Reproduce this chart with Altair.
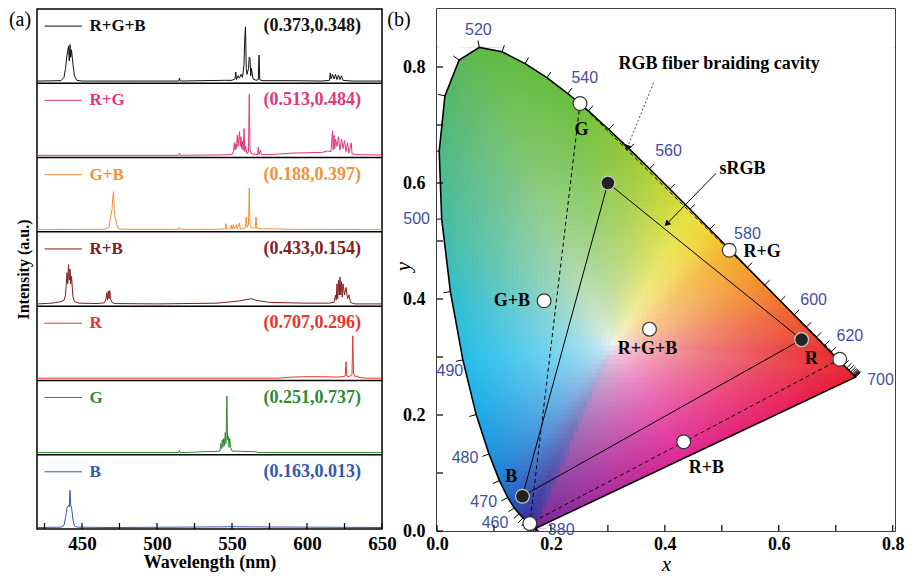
import altair as alt
import numpy as np
import pandas as pd

alt.data_transformers.disable_max_rows()

SERIF = "Liberation Serif"
SANS = "Liberation Sans"

# ---------------- (a) emission spectra ----------------
names = ["R+G+B", "R+G", "G+B", "R+B", "R", "G", "B"]
colors = ["#111111", "#e2377f", "#f0923c", "#82201f", "#e8362c", "#2f8a33", "#3458b0"]
coords = ["(0.373,0.348)", "(0.513,0.484)", "(0.188,0.397)", "(0.433,0.154)",
          "(0.707,0.296)", "(0.251,0.737)", "(0.163,0.013)"]

spec_rgb = [(420, 0.03), (436, 0.035), (438, 0.08), (439, 0.2), (440, 0.38), (441, 0.50), (441.5, 0.3),
            (442, 0.52), (442.5, 0.35), (443, 0.45), (444, 0.25), (445, 0.10), (446.5, 0.04), (450, 0.03),
            (514.5, 0.03), (515, 0.07), (515.5, 0.03), (530, 0.035), (545, 0.04), (550, 0.04),
            (552, 0.06), (552.5, 0.15), (553, 0.05), (554, 0.1), (555, 0.07), (556, 0.12), (557, 0.08),
            (558, 0.25), (558.5, 0.6), (559, 0.76), (559.5, 0.2), (560, 0.12), (561, 0.2), (561.5, 0.35),
            (562, 0.33), (562.5, 0.1), (563, 0.2), (564, 0.06), (566, 0.04), (567.5, 0.05), (568, 0.38),
            (568.5, 0.05), (570, 0.035), (590, 0.035), (610, 0.03), (615, 0.04), (615.5, 0.14),
            (616, 0.06), (617, 0.12), (618, 0.06), (619, 0.12), (620, 0.05), (621, 0.11), (622, 0.05),
            (623, 0.1), (624, 0.04), (630, 0.03), (650, 0.03)]
spec_rg = [(420, 0.03), (514.5, 0.03), (515, 0.06), (515.5, 0.03), (540, 0.035), (550, 0.04),
           (551, 0.08), (551.5, 0.2), (552, 0.1), (552.5, 0.18), (553, 0.12), (553.5, 0.3), (554, 0.15),
           (555, 0.35), (555.5, 0.15), (556, 0.28), (556.5, 0.12), (557, 0.22), (557.5, 0.1), (558, 0.39),
           (558.5, 0.08), (559, 0.15), (560, 0.05), (561, 0.08), (561.5, 0.85), (562, 0.1), (563, 0.05),
           (567, 0.04), (567.5, 0.14), (568, 0.04), (569, 0.1), (569.5, 0.04), (575, 0.04), (590, 0.06),
           (600, 0.065), (610, 0.07), (614, 0.09), (616, 0.08), (617, 0.36), (617.5, 0.1), (618, 0.3),
           (618.5, 0.12), (619, 0.25), (620, 0.15), (621, 0.28), (622, 0.1), (623, 0.25), (624, 0.12),
           (625, 0.23), (626, 0.08), (627, 0.2), (628, 0.06), (629.5, 0.2), (630, 0.05), (633, 0.04),
           (650, 0.035)]
spec_gb = [(420, 0.03), (465, 0.035), (468, 0.06), (469, 0.2), (470, 0.3), (470.5, 0.45), (471, 0.54),
           (471.5, 0.3), (472, 0.2), (473, 0.12), (474, 0.05), (476, 0.035), (514.5, 0.035), (515, 0.06),
           (515.5, 0.035), (540, 0.035), (545.5, 0.04), (546, 0.11), (546.5, 0.04), (549, 0.04),
           (549.5, 0.09), (550, 0.04), (551, 0.1), (551.5, 0.04), (553, 0.1), (553.5, 0.04), (555, 0.12),
           (555.5, 0.04), (558, 0.04), (559, 0.06), (559.5, 0.2), (560, 0.06), (561, 0.1), (561.5, 0.59),
           (562, 0.08), (563, 0.05), (565.5, 0.05), (566, 0.2), (566.5, 0.05), (570, 0.04), (580, 0.04),
           (585, 0.035), (650, 0.03)]
spec_rb = [(420, 0.03), (430, 0.04), (436, 0.06), (438, 0.08), (439, 0.15), (440, 0.45), (440.5, 0.3),
           (441, 0.56), (441.5, 0.35), (442, 0.5), (442.5, 0.3), (443, 0.4), (444, 0.12), (445, 0.06),
           (448, 0.04), (460, 0.035), (465, 0.045), (466, 0.1), (466.5, 0.18), (467, 0.08), (467.5, 0.2),
           (468, 0.1), (468.5, 0.21), (469, 0.1), (470, 0.05), (472, 0.035), (500, 0.03), (540, 0.04),
           (555, 0.07), (560, 0.09), (563, 0.1), (566, 0.08), (575, 0.05), (600, 0.04), (615, 0.04),
           (618, 0.05), (619, 0.15), (619.5, 0.08), (620, 0.3), (620.5, 0.1), (621, 0.35), (621.5, 0.15),
           (622, 0.39), (622.5, 0.15), (623, 0.33), (623.5, 0.12), (624, 0.3), (625, 0.15), (626, 0.25),
           (627, 0.1), (628, 0.15), (629, 0.05), (632, 0.03), (650, 0.03)]
spec_r = [(420, 0.03), (580, 0.03), (590, 0.045), (600, 0.05), (610, 0.05), (620, 0.045), (624, 0.05),
          (625.5, 0.06), (626, 0.25), (626.5, 0.06), (628, 0.05), (630, 0.08), (630.5, 0.6), (631, 0.1),
          (632, 0.05), (634, 0.06), (634.5, 0.04), (640, 0.03), (650, 0.03)]
spec_g = [(420, 0.03), (514.5, 0.03), (515, 0.06), (515.5, 0.03), (520, 0.03), (530, 0.04), (540, 0.045),
          (542, 0.05), (542.5, 0.15), (543, 0.08), (543.5, 0.2), (544, 0.1), (544.5, 0.22), (545, 0.12),
          (545.5, 0.3), (546, 0.15), (546.6, 0.79), (547, 0.2), (547.5, 0.25), (548, 0.1), (548.5, 0.22),
          (549, 0.1), (550, 0.05), (556, 0.045), (566, 0.04), (567, 0.03), (650, 0.03)]
spec_b = [(420, 0.02), (436, 0.025), (438, 0.05), (439, 0.15), (440, 0.28), (441, 0.32), (441.5, 0.3),
          (442, 0.52), (442.5, 0.3), (443, 0.3), (444, 0.12), (445, 0.04), (447, 0.025), (470, 0.02),
          (515, 0.025), (550, 0.03), (600, 0.025), (650, 0.02)]
spectra = [spec_rgb, spec_rg, spec_gb, spec_rb, spec_r, spec_g, spec_b]

wl_ticks = [425, 450, 475, 500, 525, 550, 575, 600, 625, 650]

LW, LH = 345, 520
RW, RH = 458, 522

rows = []
for i, (nm, pts) in enumerate(zip(names, spectra)):
    off = 6 - i
    for w, v in pts:
        rows.append({"series": nm, "wl": w, "y": off + v})
spec_df = pd.DataFrame(rows)

leg_df = pd.DataFrame({
    "series": names,
    "wl": [425] * 7, "wl2": [450] * 7, "wlt": [455] * 7, "wlc": [636] * 7,
    "y": [6 - i + 0.77 for i in range(7)],
    "coord": coords,
})
div_df = pd.DataFrame({"y": [1, 2, 3, 4, 5, 6]})
ltick_df = pd.DataFrame({"wl": wl_ticks})

lx_scale = alt.Scale(domain=[420, 650], nice=False, zero=False)
lx_axis = alt.Axis(values=wl_ticks, labelExpr="datum.value % 50 == 0 ? datum.label : ''",
                   title="Wavelength (nm)", ticks=False, tickSize=0, labelPadding=5,
                   labelFontSize=19, labelFontWeight="bold", titleFontSize=18, titleFontWeight="bold",
                   titlePadding=0, labelFlush=False, labelOverlap=False)
ly_scale = alt.Scale(domain=[0, 7], nice=False, zero=False)
ly_axis = alt.Axis(title="Intensity (a.u.)", labels=False, ticks=False, tickSize=0, domain=False,
                   titlePadding=6, titleFontSize=16, titleFontWeight="bold")


def LX(f):
    return alt.X(f, type="quantitative", scale=lx_scale, axis=lx_axis)


def LY(f):
    return alt.Y(f, type="quantitative", scale=ly_scale, axis=ly_axis)


col_enc = alt.Color("series:N", scale=alt.Scale(domain=names, range=colors), legend=None)

lines = alt.Chart(spec_df).mark_line(strokeWidth=1, clip=True).encode(
    x=LX("wl"), y=LY("y"), color=col_enc, detail="series:N")
dividers = alt.Chart(div_df).mark_rule(color="black", strokeWidth=1.5).encode(y=LY("y"))
lticks = alt.Chart(ltick_df).mark_rule(color="black", strokeWidth=1.2).encode(
    x=LX("wl"), y=alt.value(LH - 6), y2=alt.value(LH))
leg_lines = alt.Chart(leg_df).mark_rule(strokeWidth=1).encode(
    x=LX("wl"), x2=alt.X2("wl2"), y=LY("y"), color=col_enc)
leg_text = alt.Chart(leg_df).mark_text(align="left", baseline="middle", font=SERIF, fontWeight="bold",
                                       fontSize=17).encode(x=LX("wlt"), y=LY("y"), text="series:N",
                                                           color=col_enc)
coord_text = alt.Chart(leg_df).mark_text(align="right", baseline="middle", font=SERIF, fontWeight="bold",
                                         fontSize=18).encode(x=LX("wlc"), y=LY("y"), text="coord:N",
                                                             color=col_enc)
tag_a = alt.Chart(pd.DataFrame({"t": ["(a)"]})).mark_text(
    font=SERIF, fontSize=20, align="center", baseline="middle", color="black").encode(
    x=alt.value(-17), y=alt.value(11), text="t:N")

left = alt.layer(lines, dividers, lticks, leg_lines, leg_text, coord_text, tag_a).properties(
    width=LW, height=LH)

# ---------------- (b) CIE 1931 chromaticity diagram ----------------
locus_wl = [380, 385, 390, 395, 400, 405, 410, 415, 420, 425, 430, 435, 440, 445, 450, 455, 460, 465, 470,
            475, 480, 485, 490, 495, 500, 505, 510, 515, 520, 525, 530, 535, 540, 545, 550, 555, 560, 565,
            570, 575, 580, 585, 590, 595, 600, 605, 610, 615, 620, 625, 630, 635, 640, 645, 650, 655, 660,
            665, 670, 675, 680, 690, 700]
locus_x = [0.1741, 0.1740, 0.1738, 0.1736, 0.1733, 0.1730, 0.1726, 0.1721, 0.1714, 0.1703, 0.1689, 0.1669,
           0.1644, 0.1611, 0.1566, 0.1510, 0.1440, 0.1355, 0.1241, 0.1096, 0.0913, 0.0687, 0.0454, 0.0235,
           0.0082, 0.0039, 0.0139, 0.0389, 0.0743, 0.1142, 0.1547, 0.1929, 0.2296, 0.2658, 0.3016, 0.3373,
           0.3731, 0.4087, 0.4441, 0.4788, 0.5125, 0.5448, 0.5752, 0.6029, 0.6270, 0.6482, 0.6658, 0.6801,
           0.6915, 0.7006, 0.7079, 0.7140, 0.7190, 0.7230, 0.7260, 0.7283, 0.7300, 0.7311, 0.7320, 0.7327,
           0.7334, 0.7344, 0.7347]
locus_y = [0.0050, 0.0050, 0.0049, 0.0049, 0.0048, 0.0048, 0.0048, 0.0048, 0.0051, 0.0058, 0.0069, 0.0086,
           0.0109, 0.0138, 0.0177, 0.0227, 0.0297, 0.0399, 0.0578, 0.0868, 0.1327, 0.2007, 0.2950, 0.4127,
           0.5384, 0.6548, 0.7502, 0.8120, 0.8338, 0.8262, 0.8059, 0.7816, 0.7543, 0.7243, 0.6923, 0.6589,
           0.6245, 0.5896, 0.5547, 0.5202, 0.4866, 0.4544, 0.4242, 0.3965, 0.3725, 0.3514, 0.3340, 0.3197,
           0.3083, 0.2993, 0.2920, 0.2859, 0.2809, 0.2770, 0.2740, 0.2717, 0.2700, 0.2689, 0.2680, 0.2673,
           0.2666, 0.2656, 0.2653]

wl_labels = [380, 460, 470, 480, 490, 500, 520, 540, 560, 580, 600, 620, 700]
lbl_dx = [25, -24, -24, -24, -13, -25, -1, 17, 19, 18.5, 19.5, 19, 25]      # px offsets (style)
lbl_dy = [2, 9, 5, 4, 11, 0, -17, -16, -17.5, -14.6, -14.7, -16, 3]

cav_names = ["G", "R+G", "G+B", "R+G+B", "R", "R+B", "B"]
cav_x = [0.251, 0.513, 0.188, 0.373, 0.707, 0.433, 0.163]
cav_y = [0.737, 0.484, 0.397, 0.348, 0.296, 0.154, 0.013]
cav_lbl_x = [0.2536, 0.5706, 0.1313, 0.3697, 0.6571, 0.4730, 0.1304]
cav_lbl_y = [0.6913, 0.4808, 0.3957, 0.3133, 0.2972, 0.1092, 0.0939]
srgb_x = [0.64, 0.30, 0.15]
srgb_y = [0.33, 0.60, 0.06]

# colour styling of the diagram background
anchor_wl = [380, 450, 465, 475, 485, 490, 495, 500, 510, 520, 540, 555, 565, 572, 580, 590, 600, 620, 700]
anchor_rgb = [(120, 40, 150), (50, 50, 160), (40, 80, 180), (30, 125, 212), (30, 170, 230), (35, 190, 235),
              (50, 190, 205), (70, 188, 160), (85, 183, 110), (95, 185, 70), (105, 190, 60), (150, 200, 55),
              (200, 215, 50), (240, 230, 60), (245, 180, 45), (242, 140, 45), (238, 95, 50), (233, 45, 50),
              (230, 30, 50)]
purple_t = [0, 0.3, 0.55, 0.8, 1]
purple_rgb = [(230, 30, 50), (232, 35, 110), (222, 40, 150), (170, 45, 155), (120, 40, 150)]
white_xy = (0.31, 0.32)
white_rgb = (248, 246, 246)

XMAX, YMAX = 0.804, 0.9
SX, SY = RW / XMAX, RH / YMAX
lx = np.array(locus_x)
ly = np.array(locus_y)
lw = np.array(locus_wl, float)
ar = np.array(anchor_rgb, float)
bcol = np.stack([np.interp(lw, anchor_wl, ar[:, k]) for k in range(3)], axis=1)
tt = np.linspace(0.02, 0.98, 30)
px_ = lx[-1] + tt * (lx[0] - lx[-1])
py_ = ly[-1] + tt * (ly[0] - ly[-1])
pr = np.array(purple_rgb, float)
pcol = np.stack([np.interp(tt, purple_t, pr[:, k]) for k in range(3)], axis=1)
BX = np.concatenate([lx, px_])
BY = np.concatenate([ly, py_])
BC = np.concatenate([bcol, pcol])
th_b = np.arctan2(BY - white_xy[1], BX - white_xy[0])
r_b = np.hypot(BX - white_xy[0], BY - white_xy[1])

step = 0.008
gx = np.arange(0, 0.75, step)
gy = np.arange(0, 0.845, step)
X0, Y0 = np.meshgrid(gx, gy)
CX = X0 + step / 2
CY = Y0 + step / 2
th = np.arctan2(CY - white_xy[1], CX - white_xy[0])
rr = np.hypot(CX - white_xy[0], CY - white_xy[1])
rb = np.interp(th, th_b, r_b, period=2 * np.pi)
keep = rr <= rb + 0.012
ratio = np.clip(rr / rb, 0, 1)
f = ratio ** 0.55
chans = []
for k in range(3):
    ck = np.interp(th, th_b, BC[:, k], period=2 * np.pi)
    chans.append(white_rgb[k] * (1 - f) + ck * f)
R_, G_, B_ = [np.clip(np.round(c), 0, 255).astype(int) for c in chans]
hexes = np.array(["#%02x%02x%02x" % (a, b, c) for a, b, c in zip(R_.ravel(), G_.ravel(), B_.ravel())])
km = keep.ravel()
cells = pd.DataFrame({
    "x0": X0.ravel()[km], "x1": np.minimum(X0.ravel()[km] + step * 1.2, XMAX),
    "y0": Y0.ravel()[km], "y1": np.minimum(Y0.ravel()[km] + step * 1.2, YMAX),
    "c": hexes[km],
})

i520 = locus_wl.index(520)
i420 = locus_wl.index(420)
left_idx = list(range(i520, i420 - 1, -1)) + [0]
right_idx = list(range(i520, len(locus_wl))) + [0]
mask_l = pd.DataFrame({"y": ly[left_idx], "xa": 0.0, "xb": lx[left_idx]})
mask_r = pd.DataFrame({"y": ly[right_idx], "xa": lx[right_idx], "xb": XMAX})
mask_rect = pd.DataFrame({"x0": [0.0, 0.0], "x1": [XMAX, XMAX],
                          "y0": [ly.max(), 0.0], "y1": [YMAX, ly.min()]})

locus_df = pd.DataFrame({"x": list(lx) + [lx[0]], "y": list(ly) + [ly[0]],
                         "o": list(range(len(lx) + 1))})

# outward tick marks along the locus (5 nm)
P = np.stack([lx * SX, ly * SY], axis=1)
ticks = []
for i in range(len(P)):
    a = P[max(i - 1, 0)]
    b = P[min(i + 1, len(P) - 1)]
    t = b - a
    n = np.array([t[1], -t[0]]) / (np.hypot(*t) + 1e-12)
    if np.dot(n, P[i] - np.array([white_xy[0] * SX, white_xy[1] * SY])) < 0:
        n = -n
    ticks.append({"x": lx[i], "y": ly[i], "x2": max(lx[i] + n[0] * 7 / SX, 0.0),
                  "y2": max(ly[i] + n[1] * 7 / SY, 0.0)})
ticks_df = pd.DataFrame(ticks)

lab_rows = []
for w, dx, dy in zip(wl_labels, lbl_dx, lbl_dy):
    j = locus_wl.index(w)
    lab_rows.append({"x": lx[j] + dx / SX, "y": ly[j] - dy / SY, "t": str(w)})
lab_df = pd.DataFrame(lab_rows)

gi, ri, bi = 0, 4, 6
dash_df = pd.DataFrame({"x": [cav_x[gi], cav_x[ri], cav_x[bi], cav_x[gi]],
                        "y": [cav_y[gi], cav_y[ri], cav_y[bi], cav_y[gi]], "o": [0, 1, 2, 3]})
srgb_df = pd.DataFrame({"x": srgb_x + [srgb_x[0]], "y": srgb_y + [srgb_y[0]], "o": [0, 1, 2, 3]})
cav_df = pd.DataFrame({"x": cav_x, "y": cav_y})
cav_lbl_df = pd.DataFrame({"x": cav_lbl_x, "y": cav_lbl_y, "t": cav_names})
srgb_pts = pd.DataFrame({"x": srgb_x, "y": srgb_y})

arrow_dot = pd.DataFrame({"x": [0.3801, 0.3333], "y": [0.7728, 0.6594], "o": [0, 1]})
arrow_sol = pd.DataFrame({"x": [0.4899, 0.4027], "y": [0.6168, 0.5289], "o": [0, 1]})
heads = pd.DataFrame({"x": [0.3345, 0.4045], "y": [0.6620, 0.5305], "ang": [202, 224]})
notes = pd.DataFrame({"x": [0.4954, 0.5364], "y": [0.8056, 0.6236],
                      "t": ["RGB fiber braiding cavity", "sRGB"]})

tick01 = [0.0, 0.1, 0.2, 0.3, 0.4, 0.5, 0.6, 0.7, 0.8]
xt_df = pd.DataFrame({"v": tick01})
yt_df = pd.DataFrame({"v": tick01})

rx_scale = alt.Scale(domain=[0, XMAX], nice=False, zero=False)
ry_scale = alt.Scale(domain=[0, YMAX], nice=False, zero=False)
lab_expr = "round(datum.value * 10) % 2 == 0 ? format(datum.value, '.1f') : ''"
rx_axis = alt.Axis(values=tick01, labelExpr=lab_expr, title="x", ticks=False, tickSize=0,
                   labelPadding=4, labelFontSize=18, labelFontWeight="bold", titleFontSize=21,
                   titleFontStyle="italic", titleFontWeight="normal", titlePadding=0, labelFlush=False,
                   labelOverlap=False)
ry_axis = alt.Axis(values=tick01, labelExpr=lab_expr, title="y", ticks=False, tickSize=0,
                   labelPadding=12, labelFontSize=18, labelFontWeight="bold", titleFontSize=21,
                   titleFontStyle="italic", titleFontWeight="normal", titleX=-34, titleY=257,
                   titleBaseline="middle", titleAlign="center", labelFlush=False, labelOverlap=False)


def RX(fld):
    return alt.X(fld, type="quantitative", scale=rx_scale, axis=rx_axis)


def RY(fld):
    return alt.Y(fld, type="quantitative", scale=ry_scale, axis=ry_axis)


cell_layer = alt.Chart(cells).mark_rect(clip=True).encode(
    x=RX("x0"), x2=alt.X2("x1"), y=RY("y0"), y2=alt.Y2("y1"), color=alt.Color("c:N", scale=None))
mask_left = alt.Chart(mask_l).mark_area(orient="horizontal", color="white", clip=True, opacity=1).encode(
    y=RY("y"), x=RX("xa"), x2=alt.X2("xb"))
mask_right = alt.Chart(mask_r).mark_area(orient="horizontal", color="white", clip=True, opacity=1).encode(
    y=RY("y"), x=RX("xa"), x2=alt.X2("xb"))
mask_box = alt.Chart(mask_rect).mark_rect(color="white", clip=True).encode(
    x=RX("x0"), x2=alt.X2("x1"), y=RY("y0"), y2=alt.Y2("y1"))
locus_line = alt.Chart(locus_df).mark_line(color="black", strokeWidth=1.6).encode(
    x=RX("x"), y=RY("y"), order="o:Q")
locus_ticks = alt.Chart(ticks_df).mark_rule(color="black", strokeWidth=1).encode(
    x=RX("x"), y=RY("y"), x2=alt.X2("x2"), y2=alt.Y2("y2"))
wl_text = alt.Chart(lab_df).mark_text(font=SANS, fontSize=16, color="#3f4fa3", align="center",
                                      baseline="middle").encode(x=RX("x"), y=RY("y"), text="t:N")
dash_line = alt.Chart(dash_df).mark_line(color="black", strokeWidth=1, strokeDash=[4, 3]).encode(
    x=RX("x"), y=RY("y"), order="o:Q")
srgb_line = alt.Chart(srgb_df).mark_line(color="black", strokeWidth=1).encode(
    x=RX("x"), y=RY("y"), order="o:Q")
arr1 = alt.Chart(arrow_dot).mark_line(color="#222", strokeWidth=0.8, strokeDash=[2, 2]).encode(
    x=RX("x"), y=RY("y"), order="o:Q")
arr2 = alt.Chart(arrow_sol).mark_line(color="black", strokeWidth=1).encode(
    x=RX("x"), y=RY("y"), order="o:Q")
arr_heads = alt.Chart(heads).mark_point(shape="triangle", filled=True, color="black", size=45,
                                        opacity=1).encode(
    x=RX("x"), y=RY("y"), angle=alt.Angle("ang:Q", scale=None))
cav_pts = alt.Chart(cav_df).mark_point(shape="circle", filled=True, fill="white", stroke="#333",
                                       strokeWidth=1.2, size=190, opacity=1).encode(x=RX("x"), y=RY("y"))
srgb_p = alt.Chart(srgb_pts).mark_point(shape="circle", filled=True, fill="#222", stroke="#cccccc",
                                        strokeWidth=1.2, size=190, opacity=1).encode(x=RX("x"), y=RY("y"))
cav_lbl = alt.Chart(cav_lbl_df).mark_text(font=SERIF, fontWeight="bold", fontSize=18, color="black",
                                          align="center", baseline="middle").encode(
    x=RX("x"), y=RY("y"), text="t:N")
note_txt = alt.Chart(notes).mark_text(font=SERIF, fontWeight="bold", fontSize=18, color="black",
                                      align="center", baseline="middle").encode(
    x=RX("x"), y=RY("y"), text="t:N")
xticks_r = alt.Chart(xt_df).mark_rule(color="black", strokeWidth=1.2).encode(
    x=RX("v"), y=alt.value(RH - 6), y2=alt.value(RH))
yticks_r = alt.Chart(yt_df).mark_rule(color="black", strokeWidth=1.2).encode(
    y=RY("v"), x=alt.value(0), x2=alt.value(6))
tag_b = alt.Chart(pd.DataFrame({"t": ["(b)"]})).mark_text(
    font=SERIF, fontSize=20, align="center", baseline="middle", color="black").encode(
    x=alt.value(-38), y=alt.value(11), text="t:N")

right = alt.layer(cell_layer, mask_left, mask_right, mask_box, locus_line, locus_ticks, wl_text,
                  dash_line, srgb_line, arr1, arr2, arr_heads, cav_pts, srgb_p, cav_lbl, note_txt,
                  xticks_r, yticks_r, tag_b).properties(width=RW, height=RH)

chart = alt.hconcat(left, right, spacing=55, bounds="flush").properties(
    padding={"left": 0, "top": 0, "right": 0, "bottom": 0}
).configure_view(stroke="black", strokeWidth=1.5).configure_axis(
    grid=False, domain=False, labelFont=SERIF, titleFont=SERIF, labelColor="black", titleColor="black",
    tickColor="black", zindex=1)

chart.save("out.html", embed_options={"renderer": "svg", "actions": False})
